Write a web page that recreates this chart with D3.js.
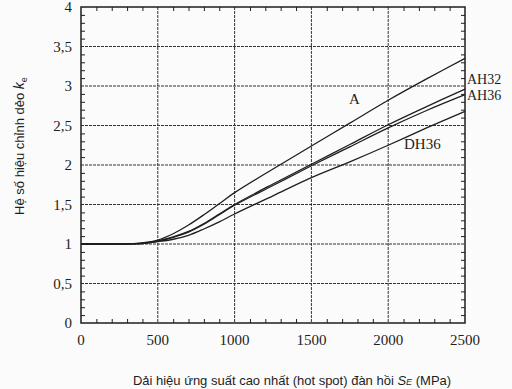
<!DOCTYPE html>
<html>
<head>
<meta charset="utf-8">
<script src="https://cdn.jsdelivr.net/npm/d3@7"></script>
<style>
  body { margin: 0; background: #fbfbfb; }
  svg { display: block; }
</style>
</head>
<body>
<div class="chart"></div>
<script>
// data
let stress = [0, 200, 300, 400, 500, 600, 700, 800, 900, 1000, 1250, 1500, 1750, 2000, 2250, 2500];
let keA    = [1, 1, 1.003, 1.015, 1.05, 1.13, 1.24, 1.37, 1.51, 1.65, 1.95, 2.24, 2.53, 2.82, 3.09, 3.35];
let keAH32 = [1, 1, 1, 1.01, 1.04, 1.09, 1.16, 1.26, 1.38, 1.50, 1.76, 2.01, 2.26, 2.51, 2.74, 2.96];
let keAH36 = [1, 1, 1, 1.008, 1.035, 1.085, 1.15, 1.25, 1.37, 1.49, 1.74, 1.99, 2.23, 2.47, 2.69, 2.89];
let keDH36 = [1, 1, 1, 1.005, 1.03, 1.06, 1.11, 1.19, 1.28, 1.38, 1.61, 1.84, 2.04, 2.25, 2.47, 2.68];
let seriesNames = ["A", "AH32", "AH36", "DH36"];
let xTicks = [0, 500, 1000, 1500, 2000, 2500];
let yTicks = [0, 0.5, 1, 1.5, 2, 2.5, 3, 3.5, 4];
let yTickLabels = ["0", "0,5", "1", "1,5", "2", "2,5", "3", "3,5", "4"];

let svgW = 512;
let svgH = 389;
let margin = { top: 7, right: 47, bottom: 66, left: 81 };
let width = svgW - margin.left - margin.right;
let height = svgH - margin.top - margin.bottom;

let svg = d3.select(".chart").append("svg")
  .attr("width", svgW)
  .attr("height", svgH);

let chartGroup = svg.append("g")
  .attr("transform", `translate(${margin.left}, ${margin.top})`);

let xScale = d3.scaleLinear().domain([0, 2500]).range([0, width]);
let yScale = d3.scaleLinear().domain([0, 4]).range([height, 0]);

let ink = "#1e1e1e";

// dashed grid
chartGroup.append("g").selectAll("line")
  .data(xTicks.slice(1, -1))
  .enter().append("line")
  .attr("x1", d => xScale(d)).attr("x2", d => xScale(d))
  .attr("y1", 0).attr("y2", height)
  .attr("stroke", "#333").attr("stroke-width", 1)
  .attr("stroke-dasharray", "3,1");

chartGroup.append("g").selectAll("line")
  .data(yTicks.slice(1, -1))
  .enter().append("line")
  .attr("x1", 0).attr("x2", width)
  .attr("y1", d => yScale(d)).attr("y2", d => yScale(d))
  .attr("stroke", "#333").attr("stroke-width", 1)
  .attr("stroke-dasharray", "3,1");

// minor ticks pointing inward on all four sides
let minorX = d3.range(100, 2500, 100).filter(d => d % 500 !== 0);
let minorY = d3.range(1, 40).map(d => d / 10).filter(d => Math.round(d * 10) % 5 !== 0);

let bottomAxis = d3.axisBottom(xScale).tickValues(minorX).tickSize(-4).tickFormat("");
let topAxis = d3.axisTop(xScale).tickValues(minorX).tickSize(-4).tickFormat("");
let leftAxis = d3.axisLeft(yScale).tickValues(minorY).tickSize(-4).tickFormat("");
let rightAxis = d3.axisRight(yScale).tickValues(minorY).tickSize(-4).tickFormat("");

chartGroup.append("g").attr("transform", `translate(0, ${height})`).call(bottomAxis);
chartGroup.append("g").call(topAxis);
chartGroup.append("g").call(leftAxis);
chartGroup.append("g").attr("transform", `translate(${width}, 0)`).call(rightAxis);
chartGroup.selectAll(".tick line").attr("stroke", ink);
chartGroup.selectAll(".domain").remove();

// frame
chartGroup.append("rect")
  .attr("width", width).attr("height", height)
  .attr("fill", "none").attr("stroke", ink).attr("stroke-width", 1.5);

// tick labels
chartGroup.append("g").selectAll("text")
  .data(xTicks)
  .enter().append("text")
  .attr("x", d => xScale(d))
  .attr("y", height + 22)
  .attr("text-anchor", "middle")
  .style("font-family", "'Liberation Serif', 'Times New Roman', serif")
  .style("font-size", "15px")
  .attr("fill", ink)
  .text(d => d);

chartGroup.append("g").selectAll("text")
  .data(yTicks)
  .enter().append("text")
  .attr("x", -9)
  .attr("y", d => yScale(d) + 5)
  .attr("text-anchor", "end")
  .style("font-family", "'Liberation Serif', 'Times New Roman', serif")
  .style("font-size", "15px")
  .attr("fill", ink)
  .text((d, i) => yTickLabels[i]);

// curves
let allSeries = [keA, keAH32, keAH36, keDH36];
let line = d3.line()
  .x(d => xScale(d[0]))
  .y(d => yScale(d[1]))
  .curve(d3.curveCatmullRom);

chartGroup.append("g").selectAll("path")
  .data(allSeries)
  .enter().append("path")
  .attr("d", vals => line(stress.map((s, i) => [s, vals[i]])))
  .attr("fill", "none")
  .attr("stroke", ink)
  .attr("stroke-width", 1.3);

// curve labels
let curveLabels = [
  { name: seriesNames[0], x: 268, y: 104, size: 15 },
  { name: seriesNames[1], x: 386, y: 84, size: 14 },
  { name: seriesNames[2], x: 386, y: 100, size: 14 },
  { name: seriesNames[3], x: 323, y: 149, size: 15 }
];
svg.append("g").selectAll("text")
  .data(curveLabels)
  .enter().append("text")
  .attr("x", d => d.x + margin.left)
  .attr("y", d => d.y)
  .style("font-family", "'Liberation Serif', 'Times New Roman', serif")
  .style("font-size", d => d.size + "px")
  .attr("fill", ink)
  .text(d => d.name);

// axis titles
let yTitle = svg.append("text")
  .attr("transform", `translate(24, ${margin.top + 139}) rotate(-90)`)
  .attr("text-anchor", "middle")
  .style("font-family", "'Liberation Sans', Arial, sans-serif")
  .style("font-size", "13px")
  .attr("fill", ink);
yTitle.append("tspan").text("Hệ số hiệu chỉnh dẻo ");
yTitle.append("tspan").style("font-style", "italic").style("font-size", "14px").text("k");
yTitle.append("tspan").attr("dy", 3).style("font-size", "9px").text("e");

let xTitle = svg.append("text")
  .attr("x", 292)
  .attr("y", 385)
  .attr("text-anchor", "middle")
  .style("font-family", "'Liberation Sans', Arial, sans-serif")
  .style("font-size", "13px")
  .attr("fill", ink);
xTitle.append("tspan").text("Dải hiệu ứng suất cao nhất (hot spot) đàn hồi ");
xTitle.append("tspan").style("font-style", "italic").text("S");
xTitle.append("tspan").style("font-style", "italic").style("font-size", "9px").text("E");
xTitle.append("tspan").text(" (MPa)");
</script>
</body>
</html>
